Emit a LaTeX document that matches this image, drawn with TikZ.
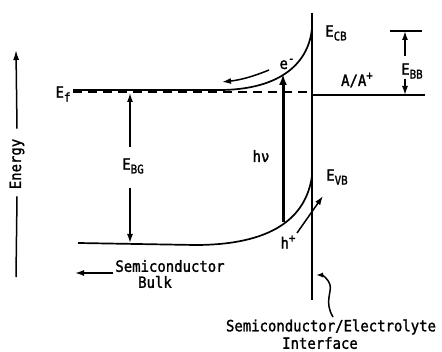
\documentclass[tikz,border=0pt]{standalone}
\usepackage{fontspec}
\newfontfamily\twfont[FakeStretch=0.9,FakeBold=1.5]{DejaVu Sans Mono}
\usetikzlibrary{arrows.meta}
\newcommand{\lowtxt}[1]{\raisebox{-0.45ex}{\fontsize{12}{12}\selectfont #1}}
\newcommand{\hightxt}[1]{\raisebox{0.75ex}{\fontsize{12}{12}\selectfont #1}}
\begin{document}
\begin{tikzpicture}[x=1pt,y=-1pt,
  lbl/.style={font=\twfont\fontsize{15.5}{17}\selectfont, inner sep=0pt},
  band/.style={line width=1.7pt},
  arr/.style={line width=1.5pt,-{Latex[length=9pt,width=6pt]}},
  bigarr/.style={line width=3pt,-{Latex[length=11pt,width=8pt]}},
]
\useasboundingbox (0,0) rectangle (442,352);
% coordinates
\coordinate (itop) at (312,13);
\coordinate (ibot) at (312,300);
\coordinate (cbL) at (73,90);
\coordinate (cbM) at (222,90);
\coordinate (cbR) at (312,28);
\coordinate (efL) at (73,92);
\coordinate (efR) at (310,92);
\coordinate (vbL) at (78,243);
\coordinate (vbM) at (195,245);
\coordinate (vbR) at (312,176);
\coordinate (aL) at (312,95);
\coordinate (aR) at (425,95);
\coordinate (bbL) at (390,31);
\coordinate (bbR) at (422,31);
% interface
\draw[line width=2.2pt] (itop) -- (ibot);
% bands
\draw[band] (cbL) -- (cbM) .. controls (282,89) and (309,62) .. (cbR);
\draw[line width=1.8pt, dash pattern=on 9pt off 6pt] (efL) -- (efR);
\draw[band] (vbL) -- (vbM) .. controls (272,245) and (306,218) .. (vbR);
\draw[band] (aL) -- (aR);
\draw[band] (bbL) -- (bbR);
% labels
\node[lbl] (ef) at (63,94) {E\lowtxt{f}};
\node[lbl] (ecb) at (336,33) {E\lowtxt{CB}};
\node[lbl] (ebb) at (412,71) {E\lowtxt{BB}};
\node[lbl] (aa) at (357,80) {A/A\hightxt{+}};
\node[lbl] (em) at (287,64) {e\hightxt{-}};
\node[lbl] (hnu) at (261,156) {hν};
\node[lbl] (ebg) at (133,166) {E\lowtxt{BG}};
\node[lbl] (evb) at (337,177) {E\lowtxt{VB}};
\node[lbl] (hp) at (288,242) {h\hightxt{+}};
\node[lbl] (sc) at (170,266) {Semiconductor};
\node[lbl] (bulk) at (155,282) {Bulk};
\node[lbl] (sce) at (331,327) {Semiconductor/Electrolyte};
\node[lbl] (intf) at (320,343) {Interface};
\node[lbl, rotate=90] (energy) at (17,164) {Energy};
% energy axis
\coordinate (eaTip) at (16,50);
\coordinate (eaBot) at (16,277);
\draw[line width=1.5pt,-{Latex[length=10pt,width=6pt]}] (energy.east) ++(0,-10) -- (eaTip);
\draw[line width=1.5pt] (energy.west) ++(0,7) -- (eaBot);
% E_BB arrows
\coordinate (bbA) at (405,56);
\coordinate (bbB) at (405,79);
\draw[arr] (bbA) -- (405,31);
\draw[arr] (bbB) -- (405,95);
% E_BG arrows
\draw[arr] (130,147) -- (130,93);
\draw[arr] (130,188) -- (130,243);
% h nu
\draw[bigarr] (283,222) -- (283,74);
% electron arrow
\coordinate (eS) at (269,70);
\coordinate (eE) at (222,82);
\draw[arr] (eS) .. controls (252,77) and (240,80) .. (eE);
% hole arrow
\coordinate (hS) at (297,233);
\coordinate (hE) at (323,196);
\draw[arr] (hS) -- (hE);
% bulk arrow
\coordinate (bS) at (113,273);
\coordinate (bE) at (75,273);
\draw[arr] (bS) -- (bE);
% interface arrow
\coordinate (iS) at (333,317);
\coordinate (iE) at (316,275);
\draw[line width=1.5pt,-{Latex[length=7pt,width=5pt]}] (iS) .. controls (324,302) and (332,292) .. (330,285) .. controls (328,278) and (322,275) .. (iE);
\end{tikzpicture}
\end{document}
